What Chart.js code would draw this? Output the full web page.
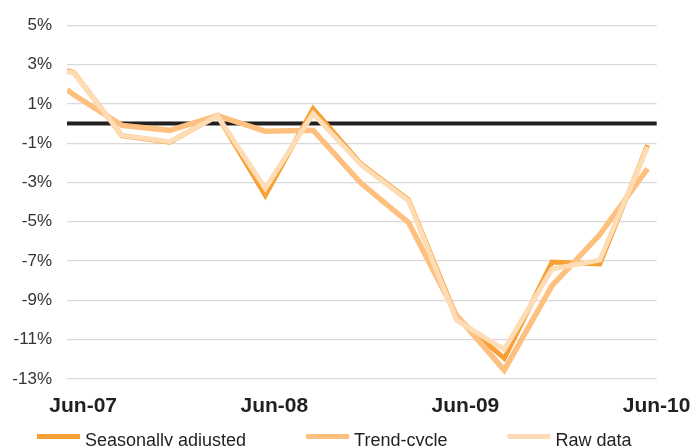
<!DOCTYPE html>
<html>
<head>
<meta charset="utf-8">
<script src="https://cdn.jsdelivr.net/npm/chart.js@4.4.1/dist/chart.umd.min.js"></script>
<style>
  html, body { margin: 0; padding: 0; background: #ffffff; }
  #wrap { width: 697px; height: 446px; position: relative; }
</style>
</head>
<body>
<div id="wrap"><canvas id="c" width="697" height="446"></canvas></div>
<script>
// Quarter positions (0 = Jun-07); the first point sits just before Jun-07
const periods = ['May-07','Jun-07','Sep-07','Dec-07','Mar-08','Jun-08','Sep-08','Dec-08','Mar-09','Jun-09','Sep-09','Dec-09','Mar-10','Jun-10'];
const positions = [-0.15, 0, 1, 2, 3, 4, 5, 6, 7, 8, 9, 10, 11, 12];
const seasonallyAdjusted = [2.70, 2.58, -0.62, -0.95, 0.40, -3.65, 0.75, -2.05, -3.90, -9.85, -11.95, -7.05, -7.15, -1.10];
const trendCycle        = [1.72, 1.45, -0.10, -0.35, 0.40, -0.40, -0.34, -3.03, -5.05, -9.75, -12.55, -8.25, -5.65, -2.30];
const rawData           = [2.65, 2.55, -0.60, -0.93, 0.38, -3.30, 0.50, -2.10, -3.95, -10.00, -11.50, -7.40, -6.95, -1.20];
const xTickValues = [0, 4, 8, 12];
const xTickLabels = ['Jun-07', 'Jun-08', 'Jun-09', 'Jun-10'];
const yTicks = [-13, -11, -9, -7, -5, -3, -1, 1, 3, 5];

const FONT = "'Liberation Sans', Arial, Helvetica, sans-serif";

function pts(vals) { return positions.map((x, i) => ({ x: x, y: vals[i] })); }

const legendPlugin = {
  id: 'customLegend',
  afterDraw(chart) {
    const ctx = chart.ctx;
    const items = chart.data.datasets.slice().sort((a, b) => a.legendIndex - b.legendIndex);
    ctx.save();
    ctx.font = "18px " + FONT;
    ctx.textBaseline = 'alphabetic';
    let x = 37;
    const boxW = 43, boxH = 5, boxY = 434, textY = 445.5, gapText = 5, gapItem = 60;
    items.forEach(ds => {
      ctx.fillStyle = ds.borderColor;
      ctx.fillRect(x, boxY, boxW, boxH);
      ctx.fillStyle = '#231f20';
      ctx.fillText(ds.label, x + boxW + gapText, textY);
      x += boxW + gapText + ctx.measureText(ds.label).width + gapItem;
    });
    ctx.restore();
  }
};

new Chart(document.getElementById('c'), {
  type: 'line',
  data: {
    datasets: [
      { label: 'Seasonally adjusted', legendIndex: 0, data: pts(seasonallyAdjusted), borderColor: '#f7a033', borderWidth: 5, order: 2 },
      { label: 'Trend-cycle', legendIndex: 1, data: pts(trendCycle), borderColor: '#fec07e', borderWidth: 5.5, order: 1 },
      { label: 'Raw data', legendIndex: 2, data: pts(rawData), borderColor: '#fedcb6', borderWidth: 5, order: 0 }
    ]
  },
  options: {
    responsive: false,
    animation: false,
    devicePixelRatio: 1,
    layout: { padding: { left: 0, right: 36, top: 22, bottom: 0 } },
    elements: {
      point: { radius: 0, hoverRadius: 0 },
      line: { tension: 0, borderJoinStyle: 'miter', borderCapStyle: 'butt', fill: false }
    },
    plugins: { legend: { display: false }, tooltip: { enabled: false } },
    scales: {
      x: {
        type: 'linear',
        min: -0.15,
        max: 12.19,
        afterBuildTicks(scale) { scale.ticks = xTickValues.map(v => ({ value: v })); },
        afterFit(scale) { scale.height = 67; },
        grid: { display: false, drawTicks: false },
        border: { display: false },
        ticks: {
          autoSkip: false,
          maxRotation: 0,
          padding: 15,
          labelOffset: 9,
          color: '#231f20',
          font: { family: FONT, size: 21, weight: 'bold' },
          callback(v) { const i = xTickValues.indexOf(v); return i >= 0 ? xTickLabels[i] : ''; }
        }
      },
      y: {
        min: -13,
        max: 5,
        afterBuildTicks(scale) { scale.ticks = yTicks.map(v => ({ value: v })); },
        afterFit(scale) { scale.width = 67; },
        grid: {
          drawTicks: false,
          color: '#d9d9d9',
          lineWidth: 1.2
        },
        border: { display: false },
        ticks: {
          padding: 15,
          color: '#333333',
          font: { family: FONT, size: 17 },
          callback(v) { return v + '%'; }
        }
      }
    }
  },
  plugins: [legendPlugin, {
    id: 'zeroLine',
    beforeDatasetsDraw(chart) {
      const y = chart.scales.y.getPixelForValue(0);
      const a = chart.chartArea;
      const ctx = chart.ctx;
      ctx.save();
      ctx.fillStyle = '#231f20';
      ctx.fillRect(a.left, y - 2, a.right - a.left, 4);
      ctx.restore();
    }
  }]
});
</script>
</body>
</html>
